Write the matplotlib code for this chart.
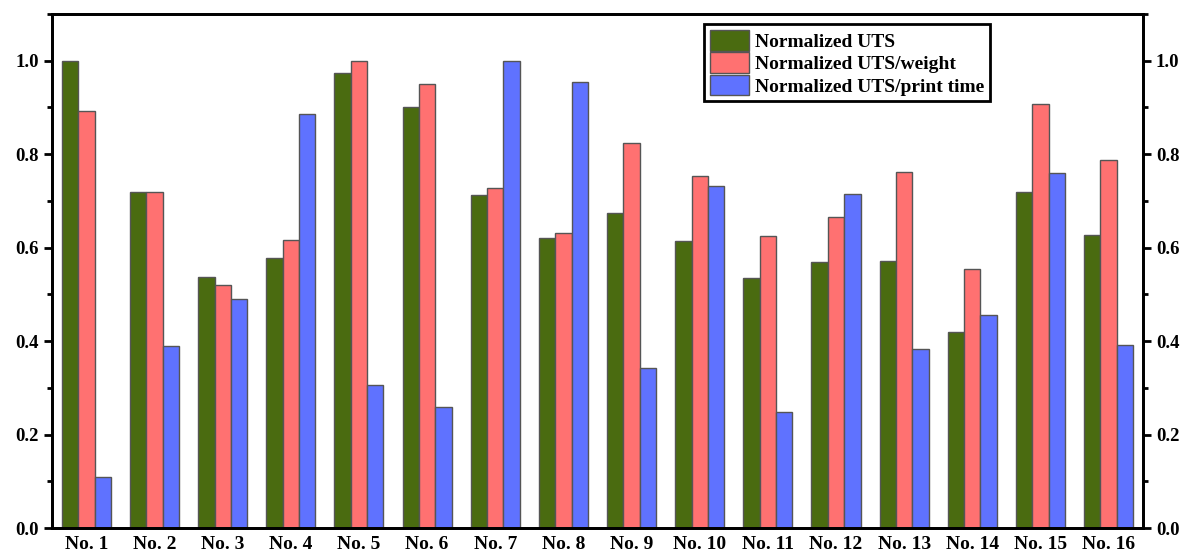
import numpy as np
import matplotlib
matplotlib.use("Agg")
import matplotlib.pyplot as plt
from matplotlib.ticker import MultipleLocator

samples = [f"No. {i}" for i in range(1, 17)]

uts = [1.0, 0.718, 0.537, 0.577, 0.973, 0.900, 0.713, 0.621,
       0.675, 0.615, 0.535, 0.570, 0.572, 0.420, 0.718, 0.626]
uts_weight = [0.893, 0.720, 0.520, 0.617, 1.0, 0.950, 0.728, 0.632,
              0.824, 0.753, 0.624, 0.666, 0.762, 0.555, 0.908, 0.787]
uts_time = [0.110, 0.390, 0.490, 0.886, 0.305, 0.260, 1.0, 0.955,
            0.342, 0.731, 0.249, 0.715, 0.384, 0.455, 0.760, 0.392]

labels = ["Normalized UTS", "Normalized UTS/weight", "Normalized UTS/print time"]
colors = ["#4a6b10", "#ff7171", "#5f72ff"]

plt.rcParams["font.family"] = ["Liberation Serif", "DejaVu Serif"]
plt.rcParams["font.weight"] = "bold"

fig = plt.figure(figsize=(11.89, 5.57), dpi=100)
ax = fig.add_axes([0.044, 0.052, 0.917, 0.923])

x = np.arange(len(samples))
w = 0.24
for k, (vals, lab, col) in enumerate(zip([uts, uts_weight, uts_time], labels, colors)):
    ax.bar(x + (k - 1) * w, vals, w, color=col, edgecolor="#555555",
           linewidth=1.0, label=lab)

ax.set_xlim(-0.5, len(samples) - 0.5)
ax.set_ylim(0, 1.1)
ax.set_xticks(x)
ax.set_xticklabels(samples, fontsize=14, fontweight="bold")
ax.tick_params(axis="x", length=0, pad=6)

# same y scale on both sides
for a in (ax, ax.twinx()):
    a.set_ylim(0, 1.1)
    a.yaxis.set_major_locator(MultipleLocator(0.2))
    a.yaxis.set_minor_locator(MultipleLocator(0.1))
    a.yaxis.set_major_formatter(matplotlib.ticker.FormatStrFormatter("%.1f"))
    a.tick_params(axis="y", which="major", direction="out", length=6, width=2, labelsize=13.5)
    a.tick_params(axis="y", which="minor", direction="out", length=3.5, width=2)
    for s in a.spines.values():
        s.set_linewidth(2)

leg = ax.legend(loc="upper left", bbox_to_anchor=(0.598, 0.98), fancybox=False,
                framealpha=1, edgecolor="black", prop={"size": 14, "weight": "bold"},
                handlelength=2.0, handleheight=1.25, handletextpad=0.3,
                labelspacing=0.08, borderpad=0.3, borderaxespad=0)
leg.get_frame().set_linewidth(2)

fig.savefig("out.png", dpi=100)
